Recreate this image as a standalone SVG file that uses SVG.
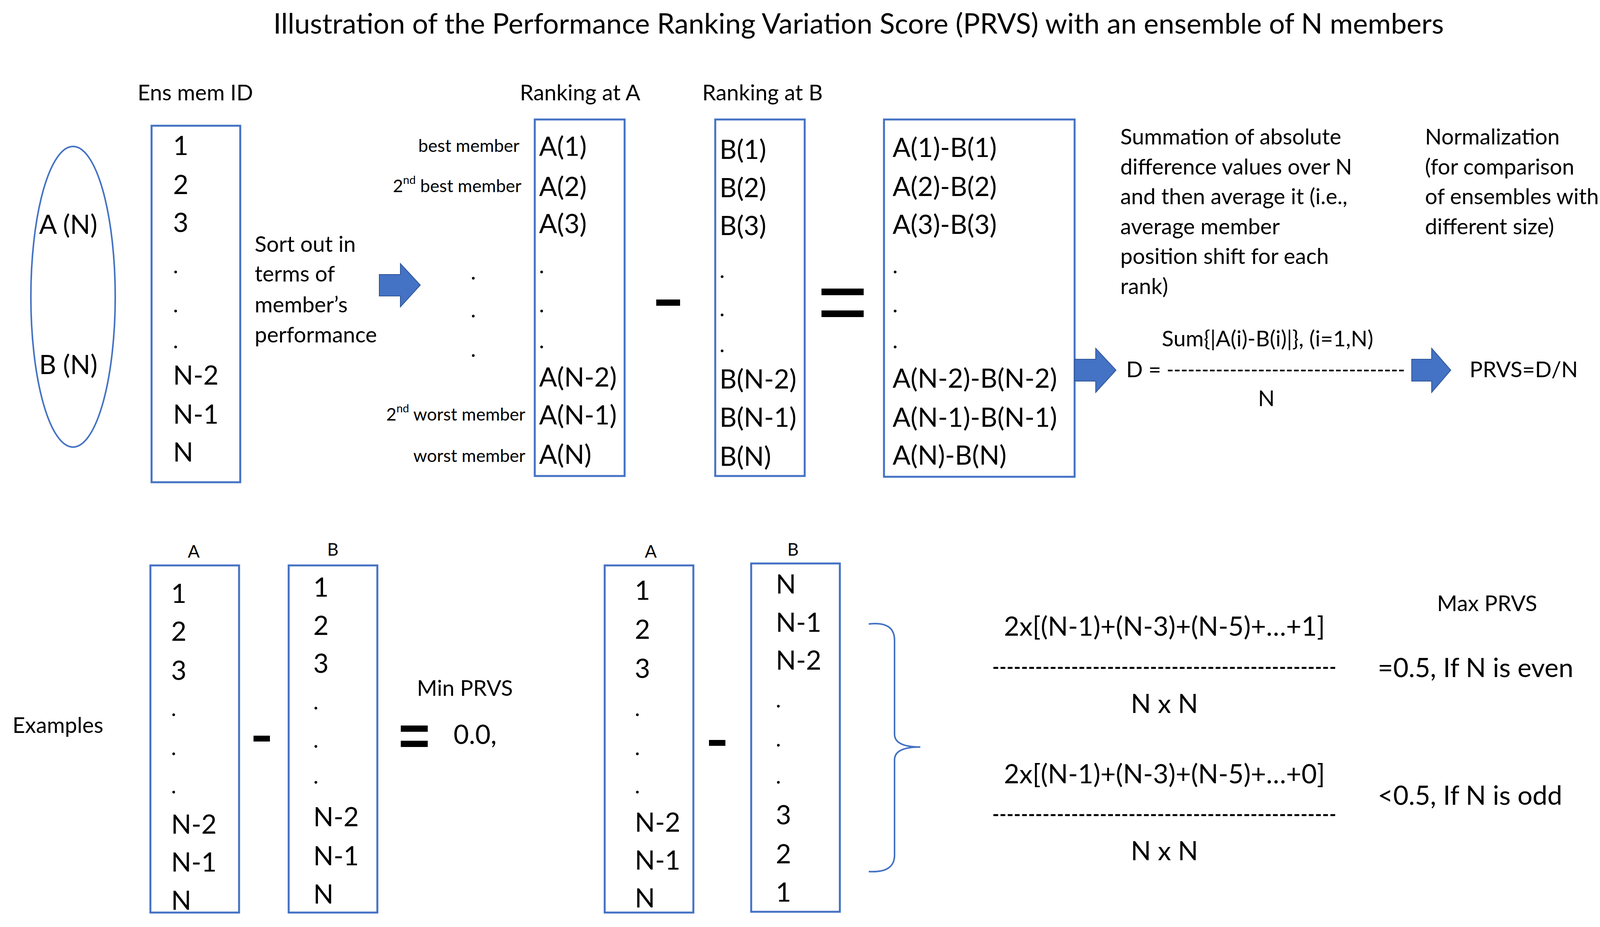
<svg xmlns="http://www.w3.org/2000/svg" width="4137" height="2374" viewBox="0 0 4137 2374">
<style>
text{font-family:Lato,"Open Sans","Liberation Sans",sans-serif;fill:#000;dominant-baseline:central}
.t{font-size:68px}
.m{font-size:56px}
.s{font-size:45px}
.d{font-size:56px}
.box{fill:none;stroke:#4472c4;stroke-width:5}
.arr{fill:#4472c4;stroke:#2f5597;stroke-width:2}
.bar{fill:#000}
.br{fill:none;stroke:#4472c4;stroke-width:4}
.r{text-anchor:end}
.c{text-anchor:middle}
</style>
<rect width="4137" height="2374" fill="#fff"/>
<text x="2198" y="58" class="c" style="font-size:72px">Illustration of the Performance Ranking Variation Score (PRVS) with an ensemble of N members</text>

<g id="ensemble">
<ellipse cx="187" cy="760" rx="108" ry="385" fill="none" stroke="#4472c4" stroke-width="4"/>
<text x="100" y="572" class="t">A (N)</text>
<text x="100" y="931" class="t">B (N)</text>
</g>

<g id="ensmemid">
<text x="500" y="235" class="m c">Ens mem ID</text>
<rect x="388" y="322" width="227" height="913" class="box"/>
<g class="t">
<text x="443" y="370">1</text><text x="443" y="470">2</text><text x="443" y="567">3</text>
<text x="443" y="958">N-2</text><text x="443" y="1058">N-1</text><text x="443" y="1155">N</text>
</g>
<g class="d"><text x="443" y="678">.</text><text x="443" y="778">.</text><text x="443" y="870">.</text></g>
</g>

<g id="sorttext" class="m">
<text x="652" y="623">Sort out in</text>
<text x="652" y="699">terms of</text>
<text x="652" y="778">member’s</text>
<text x="652" y="855">performance</text>
</g>

<g id="dots" class="d"><text x="1205" y="694">.</text><text x="1205" y="791">.</text><text x="1205" y="892">.</text></g>

<g id="rankA">
<text x="1485" y="235" class="m c">Ranking at A</text>
<rect x="1369" y="306" width="230" height="913" class="box"/>
<g class="t">
<text x="1380" y="372">A(1)</text><text x="1380" y="475">A(2)</text><text x="1380" y="570">A(3)</text>
<text x="1380" y="963">A(N-2)</text><text x="1380" y="1060">A(N-1)</text><text x="1380" y="1161">A(N)</text>
</g>
<g class="d"><text x="1380" y="678">.</text><text x="1380" y="778">.</text><text x="1380" y="870">.</text></g>
<g class="s r">
<text x="1330" y="372">best member</text>
<text x="1335" y="475">2<tspan dy="-16" font-size="29">nd</tspan><tspan dy="16"> best member</tspan></text>
<text x="1345" y="1060">2<tspan dy="-16" font-size="29">nd</tspan><tspan dy="16"> worst member</tspan></text>
<text x="1345" y="1166">worst member</text>
</g>
</g>

<rect x="1680" y="767" width="61" height="16" class="bar"/>

<g id="rankB">
<text x="1952" y="235" class="m c">Ranking at B</text>
<rect x="1831" y="306" width="229" height="913" class="box"/>
<g class="t">
<text x="1842" y="380">B(1)</text><text x="1842" y="478">B(2)</text><text x="1842" y="575">B(3)</text>
<text x="1842" y="968">B(N-2)</text><text x="1842" y="1066">B(N-1)</text><text x="1842" y="1166">B(N)</text>
</g>
<g class="d"><text x="1842" y="690">.</text><text x="1842" y="788">.</text><text x="1842" y="880">.</text></g>
</g>

<rect x="2103" y="739" width="108" height="17" class="bar"/>
<rect x="2103" y="795" width="108" height="17" class="bar"/>

<g id="diff">
<rect x="2263" y="306" width="488" height="915" class="box"/>
<g class="t">
<text x="2285" y="375">A(1)-B(1)</text><text x="2285" y="475">A(2)-B(2)</text><text x="2285" y="572">A(3)-B(3)</text>
<text x="2285" y="966">A(N-2)-B(N-2)</text><text x="2285" y="1066">A(N-1)-B(N-1)</text><text x="2285" y="1163">A(N)-B(N)</text>
</g>
<g class="d"><text x="2285" y="678">.</text><text x="2285" y="778">.</text><text x="2285" y="870">.</text></g>
</g>

<g id="summtext" class="m">
<text x="2868" y="348">Summation of absolute</text>
<text x="2868" y="425">difference values over N</text>
<text x="2868" y="501">and then average it (i.e.,</text>
<text x="2868" y="578">average member</text>
<text x="2868" y="654">position shift for each</text>
<text x="2868" y="731">rank)</text>
</g>
<g id="normtext" class="m">
<text x="3648" y="348">Normalization</text>
<text x="3648" y="425">(for comparison</text>
<text x="3648" y="501">of ensembles with</text>
<text x="3648" y="578">different size)</text>
</g>

<g id="formulaD">
<text x="3245" y="865" class="m c">Sum{|A(i)-B(i)|}, (i=1,N)</text>
<text x="2883" y="944" class="m">D = <tspan textLength="610" lengthAdjust="spacingAndGlyphs">----------------------------------</tspan></text>
<text x="3242" y="1018" class="m c">N</text>
</g>
<text x="3762" y="944" class="m">PRVS=D/N</text>

<g id="connectors">
<polygon class="arr" points="971,703 1025,703 1025,675 1076,730 1025,786 1025,758 971,758"/>
<polygon class="arr" points="2751,920 2805,920 2805,892 2857,948 2805,1005 2805,976 2751,976"/>
<polygon class="arr" points="3614,920 3665,920 3665,892 3714,948 3665,1005 3665,976 3614,976"/>
<path class="br" d="M2224,1598 Q2290,1590 2290,1640 L2290,1880 Q2290,1913 2356,1913 Q2290,1913 2290,1946 L2290,2190 Q2290,2236 2224,2232"/>
</g>

<text x="32" y="1855" class="m">Examples</text>

<g id="exA1">
<text x="496" y="1411" class="s c">A</text>
<rect x="385" y="1448" width="227" height="889" class="box"/>
<g class="t">
<text x="438" y="1517">1</text><text x="438" y="1614">2</text><text x="438" y="1714">3</text>
<text x="438" y="2108">N-2</text><text x="438" y="2205">N-1</text><text x="438" y="2303">N</text>
</g>
<g class="d"><text x="438" y="1812">.</text><text x="438" y="1912">.</text><text x="438" y="2010">.</text></g>
</g>
<rect x="649" y="1884" width="42" height="15" class="bar"/>
<g id="exB1">
<text x="852" y="1406" class="s c">B</text>
<rect x="739" y="1448" width="227" height="889" class="box"/>
<g class="t">
<text x="802" y="1501">1</text><text x="802" y="1599">2</text><text x="802" y="1696">3</text>
<text x="802" y="2089">N-2</text><text x="802" y="2189">N-1</text><text x="802" y="2287">N</text>
</g>
<g class="d"><text x="802" y="1795">.</text><text x="802" y="1893">.</text><text x="802" y="1985">.</text></g>
</g>
<rect x="1026" y="1858" width="69" height="16" class="bar"/>
<rect x="1026" y="1897" width="69" height="16" class="bar"/>
<text x="1190" y="1760" class="m c">Min PRVS</text>
<text x="1161" y="1878" class="t">0.0,</text>

<g id="exA2">
<text x="1666" y="1411" class="s c">A</text>
<rect x="1548" y="1448" width="227" height="889" class="box"/>
<g class="t">
<text x="1625" y="1509">1</text><text x="1625" y="1609">2</text><text x="1625" y="1709">3</text>
<text x="1625" y="2103">N-2</text><text x="1625" y="2200">N-1</text><text x="1625" y="2297">N</text>
</g>
<g class="d"><text x="1625" y="1812">.</text><text x="1625" y="1912">.</text><text x="1625" y="2010">.</text></g>
</g>
<rect x="1815" y="1895" width="42" height="15" class="bar"/>
<g id="exB2">
<text x="2030" y="1406" class="s c">B</text>
<rect x="1923" y="1443" width="227" height="892" class="box"/>
<g class="t">
<text x="1986" y="1493">N</text><text x="1986" y="1591">N-1</text><text x="1986" y="1688">N-2</text>
<text x="1986" y="2084">3</text><text x="1986" y="2184">2</text><text x="1986" y="2282">1</text>
</g>
<g class="d"><text x="1986" y="1790">.</text><text x="1986" y="1890">.</text><text x="1986" y="1985">.</text></g>
</g>

<g id="maxformula" class="t">
<text x="2981" y="1601" class="c">2x[(N-1)+(N-3)+(N-5)+…+1]</text>
<text x="2540" y="1704" textLength="881" lengthAdjust="spacingAndGlyphs">------------------------------------------------</text>
<text x="2981" y="1799" class="c">N x N</text>
<text x="2981" y="1979" class="c">2x[(N-1)+(N-3)+(N-5)+…+0]</text>
<text x="2540" y="2081" textLength="881" lengthAdjust="spacingAndGlyphs">------------------------------------------------</text>
<text x="2981" y="2176" class="c">N x N</text>
<text x="3527" y="1707">=0.5, If N is even</text>
<text x="3527" y="2034">&lt;0.5, If N is odd</text>
</g>
<text x="3807" y="1543" class="m c">Max PRVS</text>
</svg>
